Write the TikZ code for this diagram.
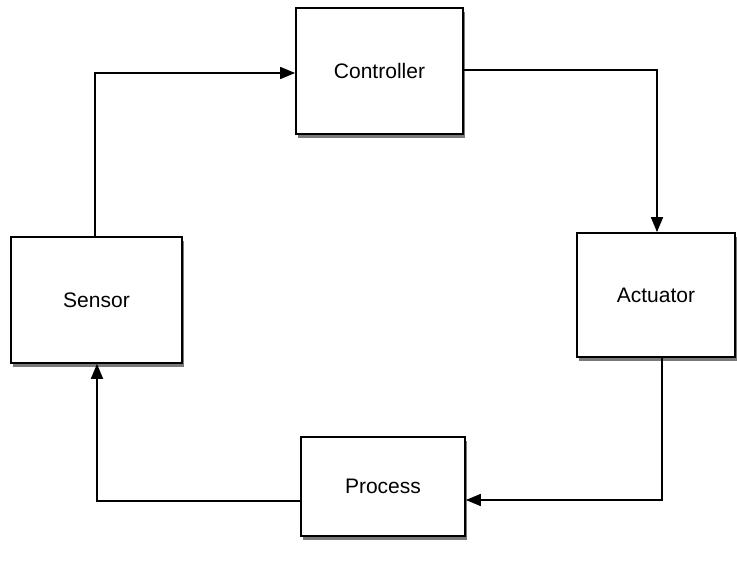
\documentclass[tikz,border=0pt]{standalone}
\usepackage{fontspec}
\setmainfont{Liberation Sans}
\usetikzlibrary{arrows.meta,shadows}
\begin{document}
\begin{tikzpicture}[x=1pt,y=-1pt,
  block/.style={draw=black,line width=1.7pt,fill=white,
    drop shadow={shadow xshift=1.5pt,shadow yshift=-4pt,opacity=0.7,fill=black!75},
    font=\fontsize{21}{25}\selectfont},
  flow/.style={line width=1.7pt,-{Triangle[length=15pt,width=12pt]}}]
  \useasboundingbox (0,0) rectangle (737,569);
  % the four stages of the loop
  \node[block,minimum width=167pt,minimum height=126pt] (ctrl) at (379.5,71) {Controller};
  \node[block,minimum width=171pt,minimum height=126pt] (sens) at (96.5,300) {Sensor};
  \node[block,minimum width=158pt,minimum height=124pt] (act) at (656,295) {Actuator};
  \node[block,minimum width=164pt,minimum height=99pt] (proc) at (383,486.5) {Process};
  % connectors
  \coordinate (c1) at (95,237);
  \draw[flow] (c1) |- (ctrl.west |- 0,73);
  \coordinate (c2) at (ctrl.east |- 0,70);
  \draw[flow] (c2) -| (act.north -| 657,0);
  \coordinate (c3) at (act.south -| 662,0);
  \draw[flow] (c3) |- (proc.east |- 0,500);
  \coordinate (c4) at (proc.west |- 0,501);
  \draw[flow] (c4) -| (sens.south -| 97,0);
\end{tikzpicture}
\end{document}
